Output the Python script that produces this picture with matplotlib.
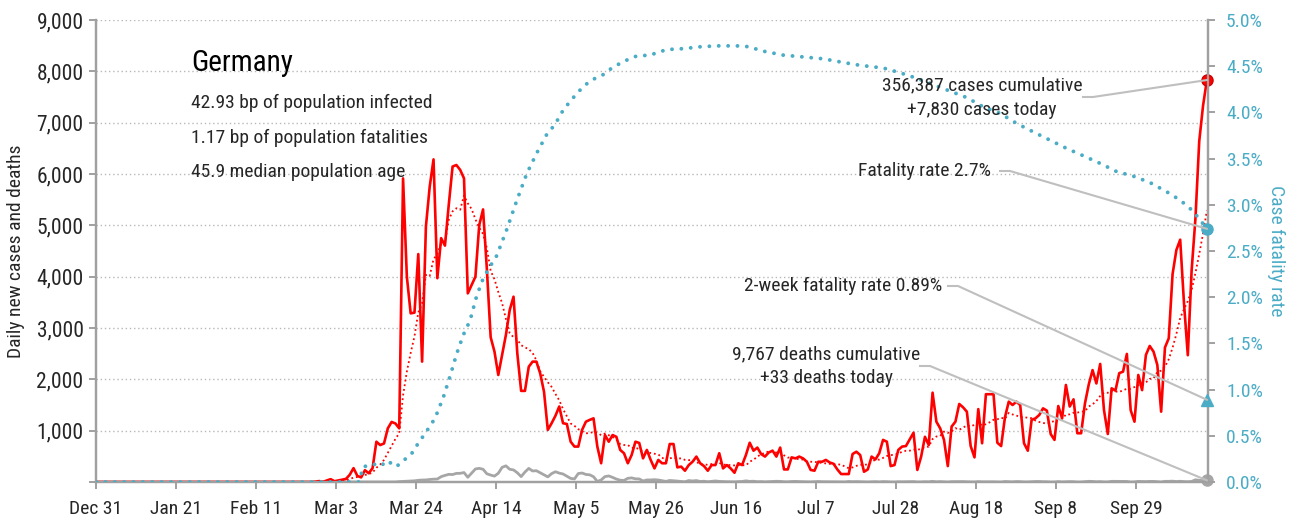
import numpy as np
import matplotlib
matplotlib.use('Agg')
import matplotlib.pyplot as plt
from matplotlib.lines import Line2D
from matplotlib.ticker import FuncFormatter

plt.rcParams['font.family'] = ['Roboto Condensed', 'DejaVu Sans']

# ---------------- data (daily, Dec 31 2019 .. Oct 17 2020) ----------------
cases_dec = [0]
cases_jan = [0, 0, 0, 0, 0, 0, 0, 0, 0, 0, 0, 0, 0, 0, 0, 0, 0, 0, 0, 0,
             0, 0, 0, 0, 0, 0, 0, 2, 2, 0, 1]
cases_feb = [2, 0, 0, 1, 0, 0, 2, 0, 0, 0, 0, 2, 0, 0, 0, 0, 0, 0, 0, 0,
             0, 0, 0, 0, 0, 6, 18, 2, 30]
cases_mar = [55, 15, 30, 45, 60, 140, 270, 120, 90, 230,
             170, 270, 785, 720, 750, 1045, 1170, 1140, 1045, 5915,
             4000, 3285, 3300, 4440, 2345, 4975, 5755, 6285, 3970, 4750, 4605]
cases_apr = [5400, 6145, 6175, 6080, 5915, 3675, 3835, 4000, 5005, 5310,
             4150, 2820, 2540, 2085, 2475, 2865, 3350, 3610, 2500, 1775,
             1775, 2245, 2345, 2345, 2115, 1760, 1015, 1145, 1290, 1470]
cases_may = [1145, 1130, 785, 690, 690, 1015, 1175, 1210, 1240, 690,
             365, 915, 785, 915, 880, 625, 560, 365, 525, 785,
             760, 460, 625, 430, 265, 430, 365, 365, 740, 740, 285]
cases_jun = [300, 220, 330, 395, 495, 365, 310, 220, 330, 330,
             560, 265, 330, 265, 180, 365, 330, 525, 765, 610,
             670, 545, 495, 575, 610, 495, 670, 245, 245, 480]
cases_jul = [460, 495, 460, 395, 235, 220, 395, 395, 430, 380,
             355, 245, 155, 155, 155, 545, 590, 525, 200, 245,
             495, 440, 560, 820, 785, 310, 330, 625, 690, 700, 830]
cases_aug = [960, 235, 495, 880, 720, 1740, 1175, 1045, 820, 310,
             1080, 1175, 1520, 1455, 1370, 700, 480, 1420, 755, 1710,
             1710, 1710, 765, 700, 1260, 1565, 1500, 1565, 1500, 755, 610]
cases_sep = [1210, 1240, 1305, 1435, 1390, 935, 820, 1480, 1240, 1890,
             1470, 1610, 950, 950, 1530, 1900, 2180, 1920, 2300, 1400,
             935, 1825, 1780, 2120, 2150, 2495, 1400, 1175, 2085, 1790]
cases_oct = [2475, 2650, 2540, 2280, 1370, 2620, 2800, 4050, 4520, 4720,
             3480, 2470, 4120, 5130, 6640, 7330, 7830]

deaths_dec = [0]
deaths_jan = [0, 0, 0, 0, 0, 0, 0, 0, 0, 0, 0, 0, 0, 0, 0, 0, 0, 0, 0, 0,
              0, 0, 0, 0, 0, 0, 0, 0, 0, 0, 0]
deaths_feb = [0, 0, 0, 0, 0, 0, 0, 0, 0, 0, 0, 0, 0, 0, 0, 0, 0, 0, 0, 0,
              0, 0, 0, 0, 0, 0, 0, 0, 0]
deaths_mar = [0, 0, 0, 0, 0, 0, 0, 0, 2, 0,
              1, 1, 1, 2, 2, 2, 0, 1, 8, 11,
              16, 19, 23, 33, 38, 40, 49, 55, 58, 104, 128]
deaths_apr = [149, 145, 168, 169, 184, 92, 173, 254, 266, 248,
              160, 135, 115, 170, 285, 315, 248, 235, 180, 105,
              194, 265, 215, 220, 179, 140, 100, 163, 200, 173]
deaths_may = [156, 113, 70, 60, 165, 175, 147, 140, 103, 10,
              40, 105, 118, 90, 57, 35, 30, 72, 80, 62,
              60, 20, 40, 40, 45, 39, 25, 12, 30, 25, 18]
deaths_jun = [10, 5, 28, 20, 28, 10, 15, 5, 12, 20,
              12, 8, 6, 4, 3, 8, 10, 22, 12, 15,
              6, 8, 3, 6, 8, 14, 12, 5, 4, 10]
deaths_jul = [12, 8, 6, 4, 2, 5, 10, 6, 6, 8,
              4, 3, 1, 2, 10, 6, 8, 5, 2, 1,
              4, 7, 2, 8, 6, 1, 0, 5, 4, 6, 7]
deaths_aug = [8, 1, 2, 6, 4, 13, 4, 8, 5, 0,
              7, 7, 5, 8, 4, 2, 1, 8, 4, 4,
              5, 4, 1, 0, 10, 7, 3, 9, 7, 2, 2]
deaths_sep = [6, 10, 10, 6, 5, 0, 1, 8, 2, 5,
              8, 6, 0, 1, 6, 13, 11, 5, 8, 2,
              2, 13, 12, 11, 8, 11, 0, 3, 12, 10]
deaths_oct = [8, 12, 12, 7, 1, 13, 13, 16, 9, 14,
              8, 6, 10, 43, 33, 24, 33]

# case fatality rate (%) at day positions (days since Dec 31)
cfr_day = [0, 69.0, 70.2, 71.0, 72.4, 73.7, 75.0, 76.3, 77.6, 78.9, 80.2, 81.6,
           82.9, 84.6, 86.8, 89.0, 91.2, 92.9, 94.7, 96.4, 98.2, 99.9, 101.7,
           103.4, 105.2, 107.8, 110.4, 113.1, 115.7, 118.3, 120.5, 122.7, 125.3,
           127.9, 130.1, 133.2, 135.4, 138.4, 141.9, 145.4, 149.8, 154.2, 158.6,
           162.9, 168.2, 171.7, 174.3, 180.4, 185.7, 190.9, 196.2, 200.5, 206.7,
           211.0, 215.4, 219.8, 224.2, 228.6, 232.9, 237.3, 241.7, 246.0, 250.4,
           254.8, 259.2, 263.5, 267.9, 272.3, 276.7, 281.1, 284.6, 287.2, 289.4,
           291.6]
cfr_pct = [0.0, 0.0, 0.17, 0.17, 0.18, 0.20, 0.18, 0.23, 0.20, 0.166, 0.22, 0.26,
           0.31, 0.42, 0.55, 0.69, 0.92, 1.14, 1.39, 1.59, 1.75, 2.01, 2.21,
           2.33, 2.45, 2.73, 3.04, 3.34, 3.56, 3.76, 3.87, 4.03, 4.16,
           4.28, 4.35, 4.41, 4.48, 4.55, 4.61, 4.62, 4.68, 4.69, 4.71,
           4.72, 4.72, 4.71, 4.67, 4.62, 4.60, 4.58, 4.54, 4.51, 4.48,
           4.43, 4.37, 4.30, 4.23, 4.16, 4.06, 3.99, 3.88, 3.79, 3.70,
           3.61, 3.53, 3.45, 3.36, 3.31, 3.24, 3.14, 3.05, 2.96, 2.86,
           2.74]
two_week_cfr = 0.89

tick_days = [0, 21, 42, 63, 84, 105, 126, 147, 168, 189, 210, 231, 252, 273]
tick_labels = ['Dec 31', 'Jan 21', 'Feb 11', 'Mar 3', 'Mar 24', 'Apr 14', 'May 5',
               'May 26', 'Jun 16', 'Jul 7', 'Jul 28', 'Aug 18', 'Sep 8', 'Sep 29']

info_title = 'Germany'
info_lines = ['42.93 bp of population infected',
              '1.17 bp of population fatalities',
              '45.9 median population age']

# ---------------- assemble ----------------
cases = np.array(cases_dec + cases_jan + cases_feb + cases_mar + cases_apr + cases_may
                 + cases_jun + cases_jul + cases_aug + cases_sep + cases_oct, float)
deaths = np.array(deaths_dec + deaths_jan + deaths_feb + deaths_mar + deaths_apr + deaths_may
                  + deaths_jun + deaths_jul + deaths_aug + deaths_sep + deaths_oct, float)
n = len(cases)
days = np.arange(n) + 0.6
ma7 = np.array([cases[max(0, i - 6):i + 1].mean() for i in range(n)])

RED = '#ff0000'
TEAL = '#4bacc6'
GRAY = '#a6a6a6'
AXC = '#a0a0a0'
TXT = '#262626'
FS = 14

W, H = 1302, 523
fig = plt.figure(figsize=(W / 100, H / 100), dpi=100)
ax = fig.add_axes([96 / W, 1 - 482 / H, (1208 - 96) / W, (482 - 20) / H])
ax2 = ax.twinx()

ax.plot(days, deaths, color=GRAY, lw=2.0, zorder=3, solid_joinstyle='round')
ax.plot(days, ma7, color=RED, lw=1.3, ls=(0, (1, 1.6)), zorder=4)
ax.plot(days, cases, color=RED, lw=1.9, zorder=5, solid_joinstyle='round')
ax.plot(days[-1], cases[-1], 'o', ms=8, color=RED, mec='#d00000', mew=1, zorder=8, clip_on=False)
ax.plot(days[-1], deaths[-1], 'o', ms=8, color=GRAY, zorder=8, clip_on=False)

ax2.plot(cfr_day, cfr_pct, color=TEAL, lw=2.8, ls=(0, (0.01, 2.4)),
         dash_capstyle='round', zorder=6)
ax2.plot(cfr_day[-1], cfr_pct[-1], 'o', ms=8, color=TEAL, zorder=8, clip_on=False)
ax2.plot(days[-1], two_week_cfr, '^', ms=9, color=TEAL, zorder=8, clip_on=False)

ax.set_xlim(0, 291.9)
ax.set_ylim(0, 9000)
ax2.set_ylim(0, 5)

ax.set_yticks(np.arange(0, 9001, 1000))
ax.yaxis.set_major_formatter(FuncFormatter(lambda v, p: '' if v == 0 else f'{int(v):,}'))
ax2.set_yticks(np.arange(0, 5.01, 0.5))
ax2.yaxis.set_major_formatter(FuncFormatter(lambda v, p: f'{v:.1f}%'))
ax.set_xticks(tick_days)
ax.set_xticklabels(tick_labels)

ax.yaxis.grid(True, ls=(0, (1, 2)), color='#b8b8b8', lw=1.0)
ax.set_axisbelow(True)

for a in (ax, ax2):
    a.spines['top'].set_visible(False)
    for s in ('left', 'right', 'bottom'):
        a.spines[s].set_color(AXC)
        a.spines[s].set_linewidth(1.6)
ax.tick_params(axis='both', colors=AXC, length=5, width=1.4, labelsize=FS, labelcolor=TXT)
ax.tick_params(axis='x', pad=8)
ax.tick_params(axis='y', pad=4, labelsize=15.5)
ax2.tick_params(axis='y', colors=AXC, length=5, width=1.4, labelsize=FS, labelcolor=TEAL, pad=8)

ax.set_ylabel('Daily new cases and deaths', fontsize=FS, color=TXT, labelpad=8)
ax2.set_ylabel('Case fatality rate', fontsize=FS, color=TEAL, rotation=270, labelpad=16)

# info block
fig.text(191 / W, 1 - 63 / H, info_title, fontsize=21, color='black', va='center', ha='left')
for i, line in enumerate(info_lines):
    fig.text(191 / W, 1 - (103 + 34.5 * i) / H, line, fontsize=FS, color=TXT, va='center', ha='left')

# annotations
def px(xp, yp):
    return xp / W, 1 - yp / H

def leader(start_px, target_disp):
    tx, ty = fig.transFigure.inverted().transform(target_disp)
    x0, y0 = px(*start_px)
    x1, _ = px(start_px[0] + 10, start_px[1])
    fig.add_artist(Line2D([x0, x1, tx], [y0, y0, ty], color='#bfbfbf', lw=1.5,
                          transform=fig.transFigure, zorder=1))

fig.text(*px(982, 85), '356,387 cases cumulative', fontsize=FS, color=TXT, ha='center', va='center')
fig.text(*px(982, 110), '+7,830 cases today', fontsize=FS, color=TXT, ha='center', va='center')
leader((1083, 97), ax.transData.transform((days[-1], cases[-1])))

fig.text(*px(991, 171), 'Fatality rate 2.7%', fontsize=FS, color=TXT, ha='right', va='center')
leader((1000, 171), ax2.transData.transform((cfr_day[-1], cfr_pct[-1])))

fig.text(*px(942, 286), '2-week fatality rate 0.89%', fontsize=FS, color=TXT, ha='right', va='center')
leader((948, 286), ax2.transData.transform((days[-1], two_week_cfr)))

fig.text(*px(826, 354), '9,767 deaths cumulative', fontsize=FS, color=TXT, ha='center', va='center')
fig.text(*px(826, 378), '+33 deaths today', fontsize=FS, color=TXT, ha='center', va='center')
leader((920, 366), ax.transData.transform((days[-1], deaths[-1])))

fig.savefig('out.png', dpi=100)
